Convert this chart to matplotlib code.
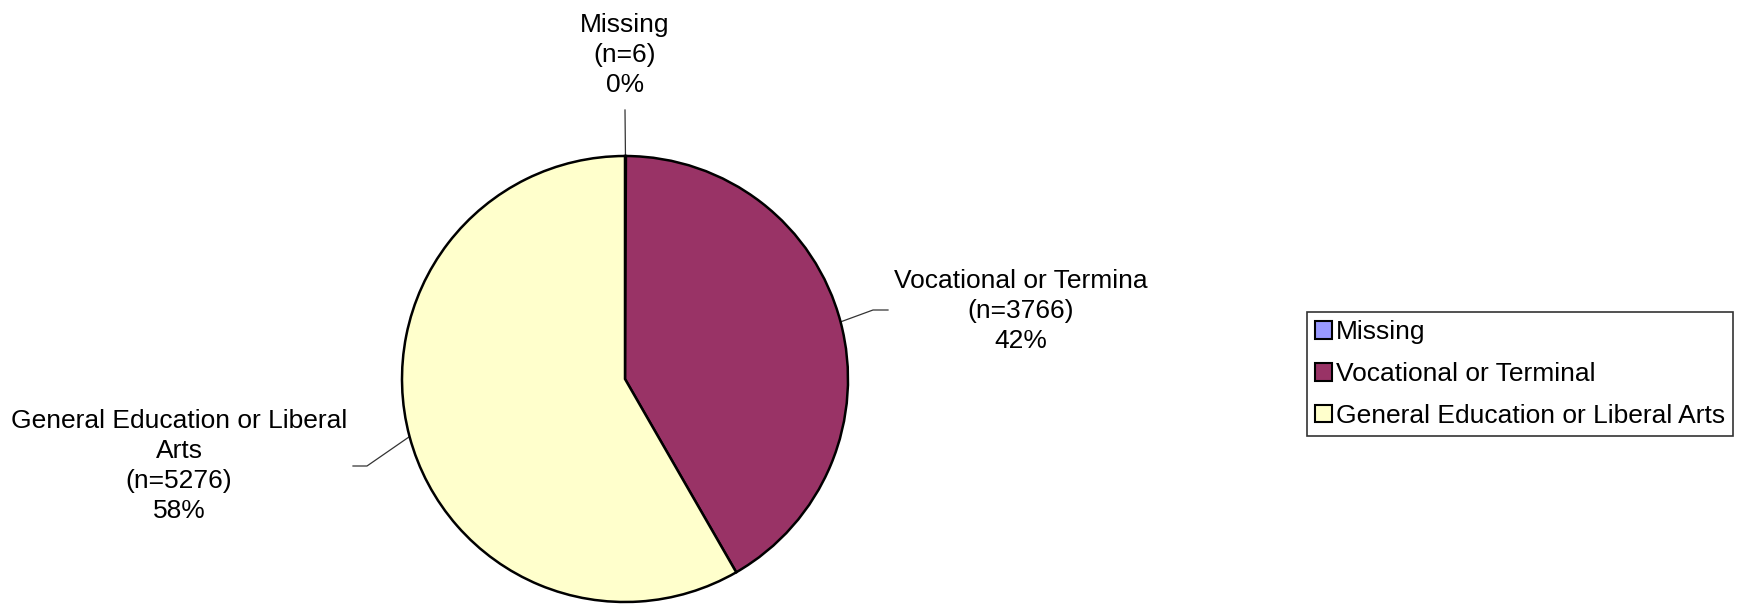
import matplotlib.pyplot as plt
import numpy as np

plt.rcParams['font.family'] = ['Liberation Sans', 'DejaVu Sans']

# Data
categories = ["Missing", "Vocational or Terminal", "General Education or Liberal Arts"]
counts = [6, 3766, 5276]
pct_labels = ["0%", "42%", "58%"]
slice_labels = ["Missing", "Vocational or Termina", "General Education or Liberal\nArts"]
colors = ["#9999FF", "#993366", "#FFFFCC"]

W, H = 1749, 605
cx, cy, R = 625, 379, 223

fig = plt.figure(figsize=(W / 100, H / 100), dpi=100)
ax = fig.add_axes([(cx - R) / W, (H - cy - R) / H, 2 * R / W, 2 * R / H])

wedges, _ = ax.pie(counts, colors=colors, startangle=90, counterclock=False,
                   radius=1, wedgeprops=dict(edgecolor="black", linewidth=1.8))
ax.set_xlim(-1, 1)
ax.set_ylim(-1, 1)
ax.axis("off")


def px(x, y):
    # pixel position -> pie data coords
    return (x - cx) / R, (cy - y) / R


# label text centre and leader elbow/end points (pixels)
text_pos = [(625, 55), (1021, 311), (179, 466)]
leaders = [[(625, 110)], [(873, 310), (888, 310)], [(367, 466), (353, 466)]]

for w, n, lab, pct, tp, pts in zip(wedges, counts, slice_labels, pct_labels, text_pos, leaders):
    mid = np.deg2rad((w.theta1 + w.theta2) / 2)
    xs = [np.cos(mid)] + [px(*p)[0] for p in pts]
    ys = [np.sin(mid)] + [px(*p)[1] for p in pts]
    ax.plot(xs, ys, color="#333333", lw=0.9, clip_on=False, zorder=0)
    tx, ty = px(*tp)
    ax.text(tx, ty, f"{lab}\n(n={n})\n{pct}", ha="center", va="center",
            fontsize=19, linespacing=1.32, clip_on=False)

leg = fig.legend(wedges, categories, loc="center left",
                 bbox_to_anchor=(1307 / W, 1 - 374 / H), fontsize=19,
                 handlelength=0.65, handleheight=0.65, handletextpad=0.15,
                 labelspacing=0.68, borderpad=0.3, borderaxespad=0,
                 fancybox=False, frameon=True)
leg.get_frame().set_edgecolor("black")
leg.get_frame().set_linewidth(1.2)
for h in leg.legend_handles:
    h.set_edgecolor("black")
    h.set_linewidth(1.5)

fig.savefig("out.png", dpi=100)
